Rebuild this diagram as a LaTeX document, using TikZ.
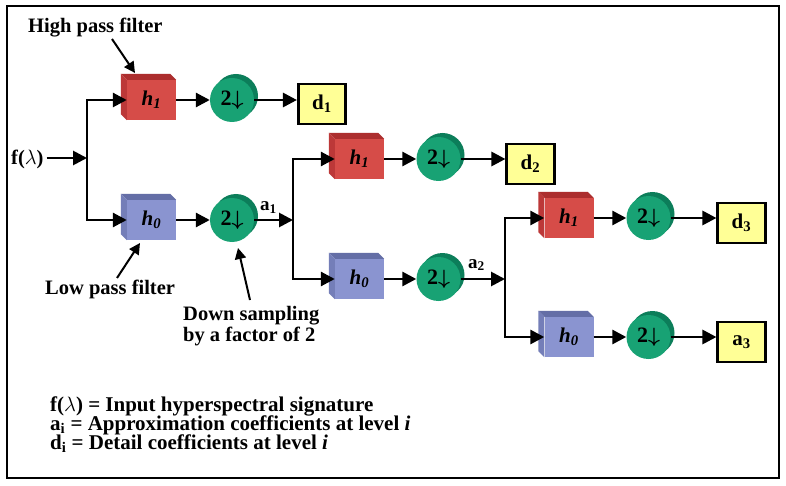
\documentclass[tikz,border=0pt]{standalone}
\usepackage{fontspec}
\usepackage{amsmath}
\setmainfont{Liberation Serif}
\usetikzlibrary{arrows.meta,calc}
\definecolor{redF}{RGB}{214,76,72}
\definecolor{redT}{RGB}{172,46,46}
\definecolor{redS}{RGB}{188,56,56}
\definecolor{bluF}{RGB}{138,148,208}
\definecolor{bluT}{RGB}{100,110,166}
\definecolor{bluS}{RGB}{116,126,184}
\definecolor{grnF}{RGB}{24,162,116}
\definecolor{grnB}{RGB}{12,126,90}
\definecolor{yelF}{RGB}{255,255,150}

\newcommand\cubefaces[3]{%
  \fill[#2] (#1.north west) -- (#1.north east) -- ++(-6,-6) -- ($(#1.north west)+(-6,-6)$) -- cycle;
  \fill[#3] (#1.north west) -- (#1.south west) -- ++(-6,-6) -- ($(#1.north west)+(-6,-6)$) -- cycle;}
\newcommand\dsnode[3]{%
  \fill[grnB] ($(#2,#3)+(4,-4)$) circle[radius=22];
  \node[ds] (#1) at (#2,#3) {2$\boldsymbol{\downarrow}$};}

\begin{document}
\begin{tikzpicture}[x=1pt,y=-1pt,
  arr/.style={line width=2.8pt,-{Triangle[length=14pt,width=14pt]}},
  arrs/.style={line width=2pt,-{Triangle[length=11pt,width=11pt]}},
  filt/.style={minimum width=49pt,minimum height=40pt,inner sep=0pt,font=\fontsize{21}{21}\selectfont\bfseries\itshape},
  hif/.style={filt,fill=redF},
  lof/.style={filt,fill=bluF},
  ds/.style={circle,minimum size=44pt,inner sep=0pt,fill=grnF,font=\fontsize{22}{22}\selectfont\bfseries},
  outb/.style={draw,line width=2.6pt,fill=yelF,minimum width=47.5pt,minimum height=40pt,inner sep=0pt,font=\fontsize{21}{21}\selectfont\bfseries},
  lbl/.style={font=\fontsize{20.5}{20.5}\selectfont\bfseries,inner sep=0pt},
  leg/.style={font=\fontsize{21}{21}\selectfont\bfseries,inner sep=0pt},
  sublbl/.style={font=\fontsize{19}{19}\selectfont\bfseries,inner sep=0pt}]
\useasboundingbox (0,0) rectangle (786,486);
\fill[white] (0,0) rectangle (786,486);
\draw[line width=2.5pt] (7,6) rectangle (779,478);

% level 1
\node[lbl,anchor=base west] (fin) at (11,165) {f($\lambda$)};
\coordinate (j1) at (87,158);
\node[hif] (H1a) at (151.5,100) {h\textsubscript{1}};
\cubefaces{H1a}{redT}{redS}
\node[lof] (H0a) at (151.5,220) {h\textsubscript{0}};
\cubefaces{H0a}{bluT}{bluS}
\dsnode{D1a}{232}{100}
\dsnode{D0a}{232}{220}
\node[outb] (O1) at (322,104) {d\textsubscript{1}};

% level 2
\coordinate (j2) at (293,220);
\node[hif] (H1b) at (359.5,159) {h\textsubscript{1}};
\cubefaces{H1b}{redT}{redS}
\node[lof] (H0b) at (359.5,279) {h\textsubscript{0}};
\cubefaces{H0b}{bluT}{bluS}
\dsnode{D1b}{438.5}{159}
\dsnode{D0b}{438.5}{279}
\node[outb] (O2) at (530.5,164) {d\textsubscript{2}};

% level 3
\coordinate (j3) at (505,279);
\node[hif] (H1c) at (569,218) {h\textsubscript{1}};
\cubefaces{H1c}{redT}{redS}
\node[lof] (H0c) at (569,337) {h\textsubscript{0}};
\cubefaces{H0c}{bluT}{bluS}
\dsnode{D1c}{648.5}{218}
\dsnode{D0c}{648.5}{337}
\node[outb] (O3) at (741.5,223) {d\textsubscript{3}};
\node[outb] (O4) at (741.5,342) {a\textsubscript{3}};

% connectors
\draw[arr] ([xshift=3pt]fin.east |- j1) -- (j1);
\draw[arr] (j1) |- (H1a);
\draw[arr] (j1) |- (H0a);
\draw[arr] (H1a) -- (D1a);
\draw[arr] (H0a) -- (D0a);
\draw[arr] (D1a) -- (O1.west |- D1a);
\draw[arr] (D0a) -- (j2);
\draw[arr] (j2) |- (H1b);
\draw[arr] (j2) |- (H0b);
\draw[arr] (H1b) -- (D1b);
\draw[arr] (H0b) -- (D0b);
\draw[arr] (D1b) -- (O2.west |- D1b);
\draw[arr] (D0b) -- (j3);
\draw[arr] (j3) |- (H1c);
\draw[arr] (j3) |- (H0c);
\draw[arr] (H1c) -- (D1c);
\draw[arr] (H0c) -- (D0c);
\draw[arr] (D1c) -- (O3.west |- D1c);
\draw[arr] (D0c) -- (O4.west |- D0c);

% signal labels
\node[sublbl,anchor=base west] (a1) at (260,211) {a\textsubscript{1}};
\node[sublbl,anchor=base west] (a2) at (468,268) {a\textsubscript{2}};

% annotations
\node[lbl,anchor=base west] (hp) at (28,33) {High pass filter};
\coordinate (hpt) at (135,73);
\draw[arrs] (112,39) -- (hpt);
\node[lbl,anchor=base west] (lp) at (45,294) {Low pass filter};
\coordinate (lpt) at (140,243);
\draw[arrs] (117,278) -- (lpt);
\node[lbl,anchor=base west] (dsl1) at (183,320) {Down sampling};
\node[lbl,anchor=base west] (dsl2) at (183,341) {by a factor of 2};
\coordinate (dst) at (238,248);
\draw[arrs] (250,300) -- (dst);

% legend
\node[leg,anchor=base west] (L1) at (50,411) {f($\lambda$) = Input hyperspectral signature};
\node[leg,anchor=base west] (L2) at (50,430) {a\textsubscript{i} = Approximation coefficients at level \textit{i}};
\node[leg,anchor=base west] (L3) at (50,449) {d\textsubscript{i} = Detail coefficients at level \textit{i}};
\end{tikzpicture}
\end{document}
